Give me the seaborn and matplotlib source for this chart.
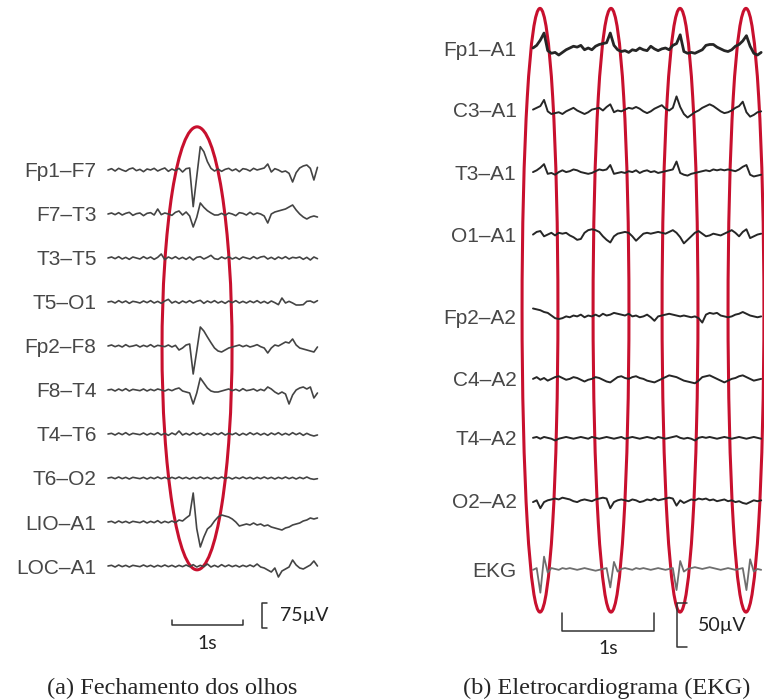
import numpy as np
import pandas as pd
import matplotlib
matplotlib.use("Agg")
import matplotlib.pyplot as plt
from matplotlib.patches import Ellipse
import seaborn as sns

# ---- panel (a): eye closure, 60 samples every 0.05 s, values in uV ----
dt_a = 0.05
channels_a = ["Fp1–F7", "F7–T3", "T3–T5", "T5–O1", "Fp2–F8",
              "F8–T4", "T4–T6", "T6–O2", "LIO–A1", "LOC–A1"]
fp1_f7 = [0, 4, -3, 5, 0, -4, 3, 6, -2, 2, -5, 3, 0, 5, -3, 2, 6, -4, 3, -2, 5, -6, 4, 6,
          -110, -20, 70, 55, 25, 5, -3,
          3, -4, 2, 5, -2, 3, -5, 4, 2, -3, 5, 0, 3, 6, 18, -6, 4, 0, -6, -3, -10, -36, -8, 6, 12, 15, 5, -30, 8]
f7_t3 = [0, 3, -2, 4, -3, 2, 5, -4, 1, 3, -5, 2, 4, -3, 15, -2, 3, 0, -4, 5, 9, -3, 6, -6,
         -39, -10, 33, 20, 10, 3, -3,
         -3, 2, -4, 3, 0, -5, 4, 2, -3, 5, -2, 3, 0, -6, -27, 0, 6, 9, 12, 15, 21, 27, 12, 0, -9, -15, -9, -6, -9]
t3_t5 = [0, 3, -2, 4, -3, 2, -4, 3, 0, -3, 4, -2, 3, -4, 2, 12, -5, 3, -2, 4,
         -3, 2, -4, 3, -6, 2, 4, -3, 2, 8, -2, -4, 3, -2, 4, -3, 2, -4, 3, 0,
         -3, 4, -2, 3, 5, -3, 2, -4, 3, -2, 4, -3, 2, 0, 3, -4, 2, -6, 3, -2]
t5_o1 = [0, 2, -3, 4, -2, 3, -4, 2, 0, -3, 3, -2, 4, -3, 2, -4, 3, 8, -3, 2,
         -4, 3, -2, 4, -3, 2, 5, -4, 3, -2, 4, -3, 2, -4, 3, -2, 4, -3, 2, -3,
         3, -2, 4, -3, 2, -4, 3, -2, -8, 12, -3, 2, -3, -9, -9, -8, 2, 3, -2, 4]
fp2_f8 = [0, 3, -2, 2, -3, 4, -2, 0, 3, -3, 2, -2, 4, -3, 2, 0, -2, 3, -3, 2, -12, -6, 3, 6,
          -84, -15, 57, 45, 27, 10, -6,
          -15, -18, -12, -6, -3, 0, 3, -2, 2, -3, 0, 4, -2, -6, -21, -6, 3, 0, 6, 12, 9, 21, 3, -6, -9, -12, -15, -18, -3]
f8_t4 = [0, 2, -3, 3, -2, 4, -3, 2, 0, -2, 3, -3, 2, -2, 3, 0, -3, 2, -2, 3, 6, -3, -6, -9,
         -42, -9, 36, 21, 6, -3, -6,
         -6, -3, 0, 3, -2, 2, -3, 4, -2, 0, 3, -3, 2, -2, 9, 3, -6, -12, -6, -12, -42, -15, 0, 6, 9, 3, 9, -24, -9]
t4_t6 = [0, 2, -3, 3, -2, 4, -3, 2, 0, -2, 3, -3, 2, -2, 4, -3, 2, -4, 3, -2,
         9, -3, 2, -3, 4, -2, 3, -4, 2, -3, 3, -2, 4, -3, 2, -2, 3, -4, 2, -3,
         4, -2, 3, -3, 2, -4, 3, -2, 4, -3, 2, -3, 4, -2, 3, -4, 2, -3, -6, -3]
t6_o2 = [0, 2, -2, 3, -2, 2, -3, 2, 0, -2, 2, -3, 2, -2, 3, -2, 2, -3, 2, -2,
         3, -2, 2, -3, 2, -2, 3, -2, 2, -3, 2, -2, 3, -2, 2, -3, 2, -2, 3, -2,
         2, -3, 2, -2, 3, -2, 2, -3, 2, -2, 3, -2, 2, -3, 2, -2, 3, -2, -4, -2]
lio_a1 = [0, 2, -3, 3, -2, 2, -3, 2, 0, -2, 3, -3, 2, -2, 4, -3, 2, -2, 3, -2, 6, 3, 12, 20,
          87, -20, -75, -45, -21, -12, 3,
          15, 21, 18, 15, 9, 0, -12, -9, -6, -9, -3, -9, -6, -12, -9, -15, -18, -21, -24, -18,
          -15, -9, -6, -3, 3, 6, 12, 9, 12]
loc_a1 = [0, 2, -3, 3, -2, 2, -3, 2, 0, -2, 3, -2, 2, -3, 2, -2, 3, -2, 2, -3,
          2, -2, 3, -2, 4, -3, 2, -2, 6, -3, 2, -3, 4, -2, 3, -2, 2, -3, 2, -2,
          3, -2, 6, -3, -6, -12, -18, -6, -33, -15, -9, -3, 18, 3, -6, -9, -3, 3, 15, 0]
traces_a = [fp1_f7, f7_t3, t3_t5, t5_o1, fp2_f8, f8_t4, t4_t6, t6_o2, lio_a1, loc_a1]

# ---- panel (b): EKG artefact, 63 samples every 0.04 s, values in uV ----
dt_b = 0.04
channels_b = ["Fp1–A1", "C3–A1", "T3–A1", "O1–A1", "Fp2–A2",
              "C4–A2", "T4–A2", "O2–A2", "EKG"]
fp1_a1 = [0, 3, 9, 17, -3, -6, -5, -8, -5, -2, 0, 2, 1, 3, -2, 0, -2, 2, 4, 5, 6,
          17, 3, -2, -4, -3, -5, -2, -3, 0, -2, -3, 2, -1, -3, -1, 0, -2, 3, 5, 15,
          -4, -6, -5, -6, -4, -2, 3, 4, 4, 1, -1, -3, -4, -2, 2, 4, 8, 14, 2, -6, -8, -5]
c3_a1 = [0, 2, 4, 11, -2, -5, -4, -3, -5, -2, 0, 2, -1, -3, -5, -3, 0, 1, 2, -1, 3,
         6, -3, -1, -2, 0, 2, 1, 3, 1, -2, -4, -2, 1, 3, 5, 1, -1, 2, 15, 3,
         -5, -9, -6, -3, -1, 2, 4, 6, 4, 1, -2, -4, -3, -1, 2, 4, 9, -3, -8, -6, -3, -2]
t3_a1 = [0, 2, 5, 9, -2, -1, -3, 0, 2, 0, 1, 3, 2, 0, -1, -2, -1, 1, 3, 2, 3,
         8, -2, -1, 0, -1, 1, 0, 2, -1, 1, 2, 0, 1, -1, 0, 1, 2, 3, 12, -1,
         -3, -4, -2, -1, 0, 1, 2, 1, 3, 2, 3, 2, 3, 2, 1, 3, 6, 8, -3, -5, -4, -3]
o1_a1 = [0, 3, 4, -2, 0, 2, -1, 2, 1, 2, -1, -3, -6, -5, 2, 5, 6, 5, 3, -2, -6,
         -9, -2, 1, 2, 3, 2, -2, -7, -3, 1, 2, 1, 2, 3, 2, 1, 3, 5, 2, -3,
         -10, -6, -2, 2, 4, 1, -2, -1, 1, 0, -1, 1, 3, 5, 2, -2, 3, 6, -4, -2, 0, 1]
fp2_a2 = [9, 8, 7, 5, 4, 1, -2, -3, -2, 0, -1, 1, 0, 2, -1, 1, 0, 2, 0, 3, 1,
          2, 4, 3, 2, 1, 3, 0, 1, -1, 0, 2, -1, -5, 0, 1, 2, 3, 2, 1, 0,
          1, 0, -1, 0, -2, -7, 2, 4, 3, 4, 1, 0, -1, 0, 2, 3, 5, 3, 1, 0, -1, 0]
c4_a2 = [0, 2, -1, 1, -2, 0, 2, 3, 1, -1, 0, 2, 1, -1, -3, -1, 0, 2, 1, -1, -3,
         -4, -1, 2, 3, 1, 0, 2, 3, 1, 0, -2, -3, -4, -2, 0, 2, 4, 3, 2, 0,
         -2, -3, -4, -5, -2, 2, 3, 4, 2, 0, -2, -4, -2, 0, 1, 3, 4, 2, 0, -2, -1, 0]
t4_a2 = [0, 1, -1, 1, 0, -1, -3, -1, 0, 1, 0, -1, 0, 1, 0, -1, 1, 0, -1, 0, 1,
         0, -1, 0, 1, -1, 0, 1, 0, -1, 0, 1, 0, -1, 1, 0, -1, 0, 1, 2, 0,
         -1, 0, -1, -3, 0, 1, 0, 1, 0, -1, 0, 1, 0, -1, 0, 1, 0, -1, 0, 1, 0, -1]
o2_a2 = [-2, 0, -9, -2, 0, 1, 2, 1, 3, 2, 1, -1, -2, 0, 1, 0, -1, 1, 2, 3, 2,
         -9, -2, 0, 1, 0, -1, 1, 0, -2, -1, 1, 0, 2, 0, 1, 2, 3, 2, -6, 0,
         -3, -1, 1, 0, 2, 1, 2, 0, 1, -1, 0, 1, -1, 0, -2, -1, -3, -4, -2, 0, -1, 0]
ekg = [0, 2, -26, 15, -3, 2, 1, 0, 2, 1, 2, 1, 0, 1, 2, 1, 0, -1, 0, 1, 2,
       -20, 9, -2, 1, 2, 1, 0, 2, 1, 2, 1, 0, 1, 2, 1, 0, 1, 2, -23, 10,
       -2, 1, 2, 3, 2, 1, 2, 3, 2, 1, 0, 1, 2, 1, 0, 1, 2, -23, 12, -2, 1, 0]
traces_b = [fp1_a1, c3_a1, t3_a1, o1_a1, fp2_a2, c4_a2, t4_a2, o2_a2, ekg]
qrs_times_b = [0.076, 0.848, 1.598, 2.315]   # marked EKG beats (s)

# vertical position of each channel (uV)
offsets_a = [-132 * k for k in range(len(channels_a))]
offsets_b = [0, -70, -141, -212, -305, -376, -443, -514, -593]

RED = "#c8102e"
W, H = 764, 700

sns.set_style("white")
plt.rcParams['font.family'] = ['Liberation Sans', 'DejaVu Sans']

fig = plt.figure(figsize=(W / 100, H / 100), dpi=100)


def add_panel(box, x0, px_per_s, y0, px_per_uv):
    left, top, right, bottom = box
    ax = fig.add_axes([left / W, 1 - bottom / H, (right - left) / W, (bottom - top) / H])
    ax.set_xlim((left - x0) / px_per_s, (right - x0) / px_per_s)
    ax.set_ylim((y0 - bottom) / px_per_uv, (y0 - top) / px_per_uv)
    return ax


def draw_traces(ax, traces, offsets, names, dt, colors, widths):
    for vals, off, c, lw in zip(traces, offsets, colors, widths):
        df = pd.DataFrame({'t': np.arange(len(vals)) * dt, 'v': np.array(vals) + off})
        sns.lineplot(data=df, x='t', y='v', ax=ax, color=c, lw=lw, estimator=None)
    ax.set_yticks(offsets)
    ax.set_yticklabels(names, fontsize=15, color='#474747')
    ax.set_xticks([])
    ax.tick_params(axis='y', length=0, pad=2.5)
    ax.set_xlabel('')
    ax.set_ylabel('')
    for s in ax.spines.values():
        s.set_visible(False)
    ax.patch.set_alpha(0)


def scale_bars(ax, t0, y_bar, tick_h, t_br, y_br, uv, tick_w, label_uv, t_lab, y_lab1s):
    kw = dict(color='#333333', lw=1.1, clip_on=False)
    ax.plot([t0, t0, t0 + 1, t0 + 1], [y_bar + tick_h, y_bar, y_bar, y_bar + tick_h], **kw)
    ax.text(t0 + 0.5, y_lab1s, '1s', ha='center', va='center', fontsize=14,
            family=['Lato', 'DejaVu Sans'], color='#222222')
    ax.plot([t_br + tick_w, t_br, t_br, t_br + tick_w], [y_br + uv, y_br + uv, y_br, y_br], **kw)
    ax.text(t_lab, y_br + uv / 2, label_uv, ha='left', va='center', fontsize=14,
            family=['Lato', 'DejaVu Sans'], color='#222222')


# ---- panel (a) ----
ax_a = add_panel((100, 100, 330, 660), 108, 71, 170, 1 / 3)
draw_traces(ax_a, traces_a, offsets_a, channels_a, dt_a,
            ['#444444'] * 10, [1.2] * 10)
ax_a.add_patch(Ellipse((1.254, -535), 0.986, 1329, fill=False, ec=RED, lw=2.2))
scale_bars(ax_a, 0.9, -1365, 15, 2.17, -1374, 75, 0.07, '75µV', 2.42, -1420)

# ---- panel (b) ----
ax_b = add_panel((520, 0, 764, 660), 533, 92, 48, 0.88)
draw_traces(ax_b, traces_b, offsets_b, channels_b, dt_b,
            ['#262626'] * 8 + ['#6e6e6e'], [2.0] + [1.4] * 7 + [1.3])
for tq in qrs_times_b:
    ax_b.add_patch(Ellipse((tq, -298), 0.39, 686, fill=False, ec=RED, lw=2.2, clip_on=False))
scale_bars(ax_b, 0.315, -662.5, 20, 1.565, -680.7, 50, 0.11, '50µV', 1.79, -682)

fig.text(172 / W, 1 - 688 / H, '(a) Fechamento dos olhos', ha='center', va='center',
         fontsize=17.5, family=['Liberation Serif', 'DejaVu Serif'])
fig.text(607 / W, 1 - 688 / H, '(b) Eletrocardiograma (EKG)', ha='center', va='center',
         fontsize=17.5, family=['Liberation Serif', 'DejaVu Serif'])

fig.savefig('out.png', dpi=100, facecolor='white')
